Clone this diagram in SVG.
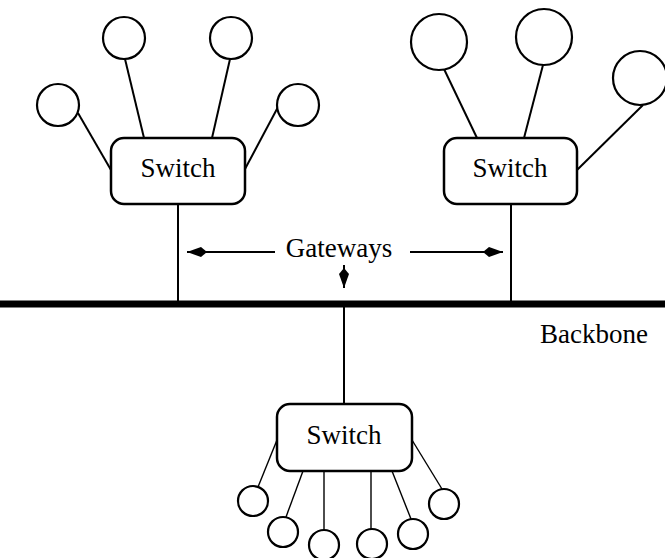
<svg xmlns="http://www.w3.org/2000/svg" width="665" height="558" viewBox="0 0 665 558">
<style>
.sw{fill:#fff;stroke:#000;stroke-width:2.5}
.nd{fill:#fff;stroke:#000;stroke-width:2.2}
.ln{stroke:#000;stroke-width:2;fill:none}
.thin{stroke:#000;stroke-width:1.4;fill:none}
.t{font-family:"Liberation Serif","Times New Roman",serif;font-size:27px;fill:#000}
</style>
<defs>
<marker id="kite" viewBox="0 0 20 12" refX="20" refY="6" markerWidth="20" markerHeight="12" markerUnits="userSpaceOnUse" orient="auto">
<path d="M0,6 L6,1 L20,6 L6,11 Z" fill="#000"/>
</marker>
</defs>
<rect width="665" height="558" fill="#fff"/>
<g id="connectors">
<line class="ln" x1="78" y1="113" x2="111" y2="170"/>
<line class="ln" x1="125" y1="59" x2="144" y2="138"/>
<line class="ln" x1="230" y1="59" x2="212" y2="138"/>
<line class="ln" x1="278" y1="107" x2="245" y2="169"/>
<line class="ln" x1="178" y1="204" x2="178" y2="304"/>
<line class="ln" x1="444" y1="69" x2="477" y2="138"/>
<line class="ln" x1="543" y1="65" x2="524" y2="138"/>
<line class="ln" x1="643" y1="105" x2="577" y2="170"/>
<line class="ln" x1="511" y1="204" x2="511" y2="304"/>
<line x1="0" y1="304" x2="665" y2="304" stroke="#000" stroke-width="7"/>
<line class="ln" x1="344" y1="304" x2="344" y2="404"/>
<line class="thin" x1="277" y1="440" x2="258" y2="487"/>
<line class="thin" x1="303" y1="471" x2="286" y2="517"/>
<line class="thin" x1="324" y1="471" x2="324" y2="530"/>
<line class="thin" x1="371" y1="471" x2="371" y2="529"/>
<line class="thin" x1="392" y1="471" x2="411" y2="519"/>
<line class="thin" x1="412" y1="440" x2="442" y2="489"/>
<line class="ln" x1="275" y1="252" x2="187" y2="252" marker-end="url(#kite)"/>
<line class="ln" x1="410" y1="252" x2="503" y2="252" marker-end="url(#kite)"/>
<line class="ln" x1="344" y1="265" x2="344" y2="288" marker-end="url(#kite)"/>
</g>
<g id="switch-left">
<rect class="sw" x="111" y="138" width="134" height="66" rx="13"/>
<text class="t" x="178" y="177" text-anchor="middle">Switch</text>
</g>
<g id="switch-right">
<rect class="sw" x="444" y="138" width="133" height="66" rx="13"/>
<text class="t" x="510" y="177" text-anchor="middle">Switch</text>
</g>
<g id="switch-bottom">
<rect class="sw" x="277" y="404" width="135" height="67" rx="13"/>
<text class="t" x="344" y="444" text-anchor="middle">Switch</text>
</g>
<g id="host-l1"><circle class="nd" cx="58" cy="105" r="21"/></g>
<g id="host-l2"><circle class="nd" cx="124" cy="38" r="21"/></g>
<g id="host-l3"><circle class="nd" cx="231" cy="38" r="21"/></g>
<g id="host-l4"><circle class="nd" cx="298" cy="105" r="21"/></g>
<g id="host-r1"><circle class="nd" cx="439" cy="42" r="28"/></g>
<g id="host-r2"><circle class="nd" cx="544" cy="37" r="28"/></g>
<g id="host-r3"><circle class="nd" cx="640" cy="78" r="27"/></g>
<g id="host-b1"><circle class="nd" cx="253" cy="501" r="15"/></g>
<g id="host-b2"><circle class="nd" cx="283" cy="532" r="15"/></g>
<g id="host-b3"><circle class="nd" cx="324" cy="545" r="15"/></g>
<g id="host-b4"><circle class="nd" cx="372" cy="544" r="15"/></g>
<g id="host-b5"><circle class="nd" cx="413" cy="534" r="15"/></g>
<g id="host-b6"><circle class="nd" cx="444" cy="504" r="15"/></g>
<g id="label-gateways"><text class="t" x="339" y="257" text-anchor="middle">Gateways</text></g>
<g id="label-backbone"><text class="t" x="540" y="343">Backbone</text></g>
</svg>
